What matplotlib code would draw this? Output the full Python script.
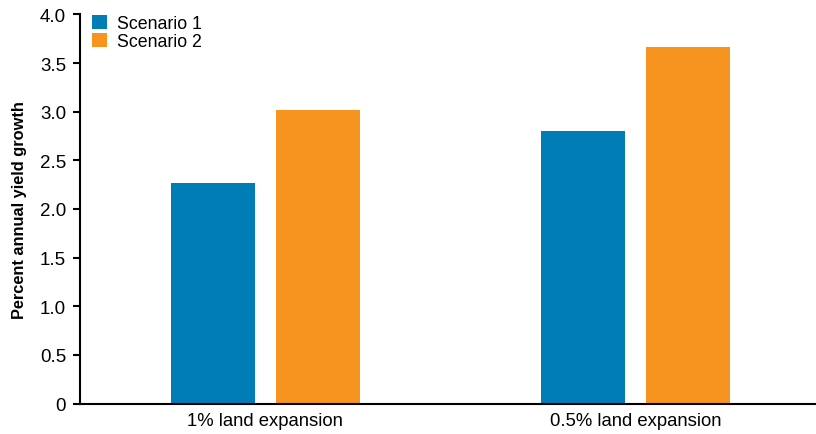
import numpy as np
import matplotlib.pyplot as plt

# Bar values
categories = ["1% land expansion", "0.5% land expansion"]
scenario_1 = [2.27, 2.80]
scenario_2 = [3.02, 3.67]
series_names = ["Scenario 1", "Scenario 2"]

BLUE = "#007cb6"
ORANGE = "#f7931f"

plt.rcParams["font.family"] = ["Liberation Sans", "DejaVu Sans"]

fig = plt.figure(figsize=(8.16, 4.35), dpi=100)
ax = fig.add_axes([0.098, 0.0701, 0.902, 0.8943])

x = np.arange(len(categories))
width = 0.227
offset = 0.1417

ax.bar(x - offset, scenario_1, width, color=BLUE, label=series_names[0])
ax.bar(x + offset, scenario_2, width, color=ORANGE, label=series_names[1])

ax.set_xlim(-0.5, 1.486)
ax.set_ylim(0, 4.0)
ax.set_yticks(np.arange(0, 4.01, 0.5))
ax.set_yticklabels(["0"] + [f"{v:.1f}" for v in np.arange(0.5, 4.01, 0.5)])
ax.set_xticks(x)
ax.set_xticklabels(categories)

ax.tick_params(axis="y", direction="out", length=5, width=1.5, labelsize=13.5, pad=5)
ax.tick_params(axis="x", length=0, labelsize=13.3, pad=6)

for side in ["top", "right"]:
    ax.spines[side].set_visible(False)
for side in ["left", "bottom"]:
    ax.spines[side].set_linewidth(1.5)

ax.set_ylabel("Percent annual yield growth", fontsize=11.8, fontweight="bold", labelpad=9)

ax.legend(loc="upper left", bbox_to_anchor=(0.0, 1.03), frameon=False, fontsize=12.8,
          handlelength=0.8, handleheight=0.8, handletextpad=0.6, labelspacing=0.05,
          borderaxespad=0.3)

fig.savefig("out.png", dpi=100)
